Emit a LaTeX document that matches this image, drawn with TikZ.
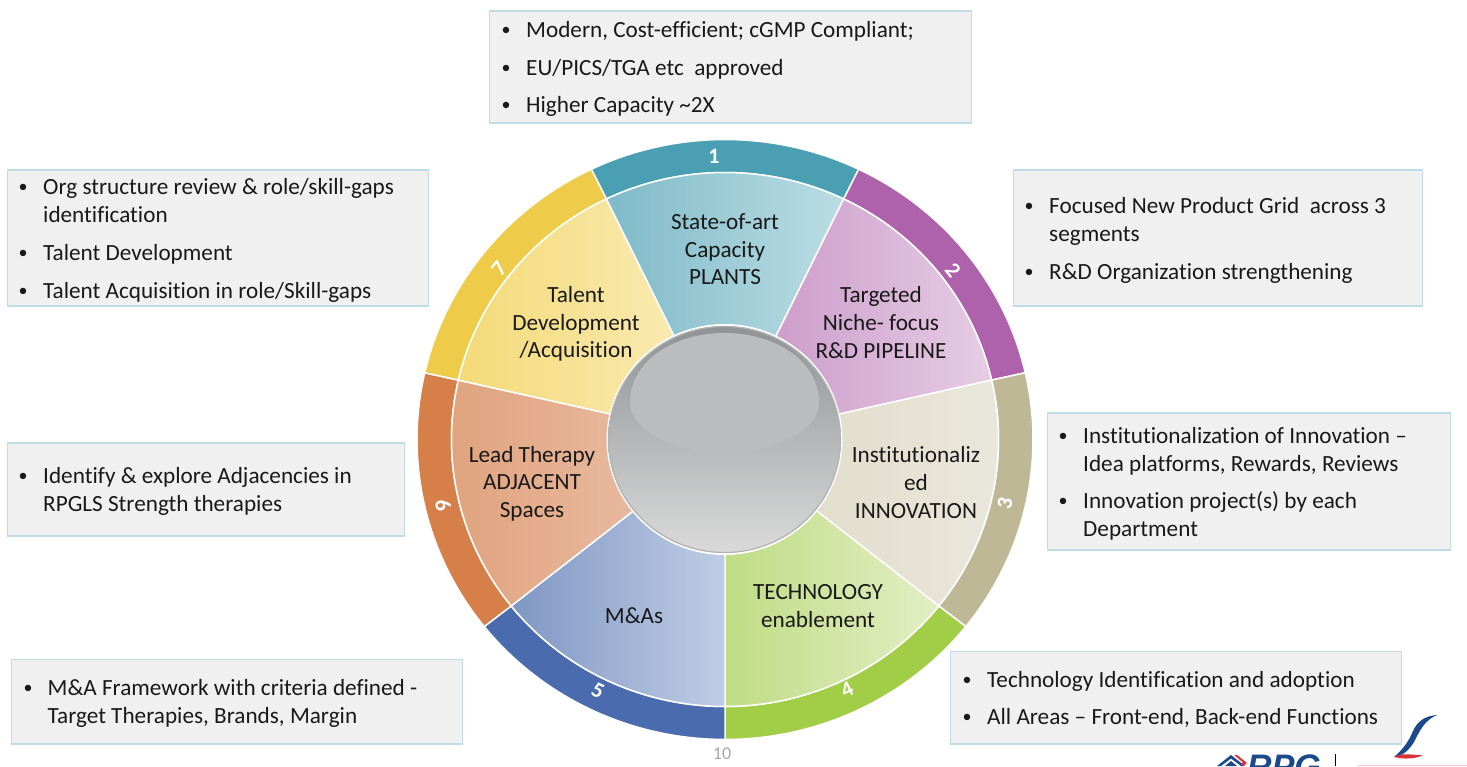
\documentclass[tikz,border=0pt]{standalone}
\usepackage{fontspec}
\setmainfont[Ligatures=CommonOff]{Carlito}
\newfontfamily\logofont{Liberation Sans}
\definecolor{boxfill}{HTML}{F0F0F0}
\definecolor{boxedge}{HTML}{BFDDE6}
\definecolor{ringA}{HTML}{4AA0B2}\definecolor{segAa}{HTML}{7FBAC8}\definecolor{segAb}{HTML}{BBDDE4}
\definecolor{ringB}{HTML}{AE62AC}\definecolor{segBa}{HTML}{C792C5}\definecolor{segBb}{HTML}{E6CDE5}
\definecolor{ringC}{HTML}{BFB897}\definecolor{segCa}{HTML}{DFD8C4}\definecolor{segCb}{HTML}{E9E7DC}
\definecolor{ringD}{HTML}{A2CE47}\definecolor{segDa}{HTML}{BFDC85}\definecolor{segDb}{HTML}{E3EEC4}
\definecolor{ringE}{HTML}{4A6CAE}\definecolor{segEa}{HTML}{7F97C4}\definecolor{segEb}{HTML}{BFCDE4}
\definecolor{ringF}{HTML}{D67F48}\definecolor{segFa}{HTML}{E0A37E}\definecolor{segFb}{HTML}{EDC4AE}
\definecolor{ringG}{HTML}{EFCB4A}\definecolor{segGa}{HTML}{F3DA78}\definecolor{segGb}{HTML}{FBEDBC}
\definecolor{logoblue}{HTML}{1B4A8C}\definecolor{logored}{HTML}{D9303A}
\definecolor{sphT}{HTML}{8F9395}\definecolor{sphM}{HTML}{A4A7A9}\definecolor{sphB}{HTML}{DADADA}
\definecolor{sphH}{HTML}{BBBCBE}\definecolor{sphE}{HTML}{B0B2B3}
\tikzset{
  infobox/.style={draw=boxedge,fill=boxfill,line width=1.4pt},
  itemline/.style={anchor=base west,inner sep=0pt,font=\fontsize{23.2}{26}\selectfont,text=black!90},
  seglabel/.style={align=center,inner sep=0pt,font=\fontsize{23.2}{27.6}\selectfont,text=black!90},
  ringnum/.style={inner sep=0pt,font=\fontsize{22}{24}\selectfont\bfseries,text=white},
}
% #1 mid angle, #2 ring colour, #3 left colour, #4 right colour
\newcommand{\wheelseg}[4]{%
  \pgfmathsetmacro{\aS}{#1-25.714}\pgfmathsetmacro{\aE}{#1+25.714}%
  \path[fill=#2,draw=white,line width=1.5pt]
    plot[domain=\aS:\aE,samples=40] ({725+308*cos(\x)},{439.5+300*sin(\x)})
    -- plot[domain=\aE:\aS,samples=40] ({725+273.5*cos(\x)},{439.5+267*sin(\x)}) -- cycle;
  \shadedraw[left color=#3,right color=#4,draw=white,line width=1.5pt]
    (725,439.5) -- plot[domain=\aS:\aE,samples=40] ({725+273.5*cos(\x)},{439.5+267*sin(\x)}) -- cycle;
}
% #1 name, #2 bullet x, #3 text x, #4 baseline y, #5 text
\newcommand{\itemrow}[5]{\node[itemline,anchor=base] (#1b) at (#2,#4) {\raisebox{1.5pt}{\fontsize{18}{20}\selectfont •}};\node[itemline] (#1) at (#3,#4) {#5};}
\newcommand{\controw}[4]{\node[itemline] (#1) at (#2,#3) {#4};}
\newcommand{\infobox}[5]{\path[infobox] (#2,#3) rectangle (#4,#5) coordinate (#1);}
\begin{document}
\begin{tikzpicture}[x=1pt,y=-1pt]
\useasboundingbox (0,0) rectangle (1467,766);
\begin{scope}
\clip (0,0) rectangle (1467,766);

% wheel
\wheelseg{-90}{ringA}{segAa}{segAb}
\wheelseg{-38.571}{ringB}{segBa}{segBb}
\wheelseg{12.857}{ringC}{segCa}{segCb}
\wheelseg{64.286}{ringD}{segDa}{segDb}
\wheelseg{115.714}{ringE}{segEa}{segEb}
\wheelseg{167.143}{ringF}{segFa}{segFb}
\wheelseg{218.571}{ringG}{segGa}{segGb}

% centre sphere
\fill[white] (724.5,439.5) ellipse [x radius=118,y radius=115.5];
\shade[top color=sphT,middle color=sphM,bottom color=sphB]
  (724.5,439.5) ellipse [x radius=116.5,y radius=113.5];
\draw[sphE,line width=1.2pt] (724.5,439.5) ellipse [x radius=116,y radius=113];
\fill[sphH] (630,403) .. controls (630,360) and (675,333) .. (724.5,333)
  .. controls (774,333) and (819,360) .. (819,403)
  .. controls (819,432) and (770,453) .. (724.5,453)
  .. controls (679,453) and (630,432) .. (630,403) -- cycle;

% ring numbers
\node[ringnum] (n1) at (714,156) {1};
\node[ringnum,rotate=-51] (n2) at (953,270) {2};
\node[ringnum,rotate=77] (n3) at (1005,503) {3};
\node[ringnum,rotate=26] (n4) at (847,690) {4};
\node[ringnum,rotate=-26] (n5) at (598,691) {5};
\node[ringnum,rotate=-77] (n6) at (443,505) {6};
\node[ringnum,rotate=51] (n7) at (499,269) {7};

% segment labels
\node[seglabel] (s1) at (725,249.5) {State-of-art\\Capacity\\PLANTS};
\node[seglabel] (s2) at (881,322.5) {Targeted\\Niche- focus\\R\&D PIPELINE};
\node[seglabel] (s3) at (916,482.5) {Institutionaliz\\ed\\INNOVATION};
\node[seglabel] (s4) at (818,606) {TECHNOLOGY\\enablement};
\node[seglabel] (s5) at (634,615.5) {M\&As};
\node[seglabel] (s6) at (532,483.5) {Lead Therapy\\ADJACENT\\Spaces};
\node[seglabel] (s7) at (576,324) {Talent\\Development\\/Acquisition};

% boxes
\infobox{bA}{489.5}{11}{971.5}{123}
\infobox{bB}{7.5}{170}{428.5}{306}
\infobox{bC}{1013.5}{170}{1422.5}{306}
\infobox{bD}{1047.5}{413}{1450.5}{550}
\infobox{bE}{7.5}{443}{404.5}{536}
\infobox{bF}{11.5}{659.5}{462.5}{744}
\infobox{bG}{950.5}{651.5}{1401.5}{744}

\itemrow{tA1}{506}{526}{37}{Modern, Cost-efficient; cGMP Compliant;}
\itemrow{tA2}{506}{526}{75}{EU/PICS/TGA etc\ \ approved}
\itemrow{tA3}{506}{526}{112}{Higher Capacity \textasciitilde 2X}

\itemrow{tB1}{23}{43}{194}{Org structure review \& role/skill-gaps}
\controw{tB2}{43}{222}{identification}
\itemrow{tB3}{23}{43}{260}{Talent Development}
\itemrow{tB4}{23}{43}{298}{Talent Acquisition in role/Skill-gaps}

\itemrow{tC1}{1029}{1049}{213}{Focused New Product Grid\ \ across 3}
\controw{tC2}{1049}{241}{segments}
\itemrow{tC3}{1029}{1049}{279}{R\&D Organization strengthening}

\itemrow{tD1}{1063}{1083}{443}{Institutionalization of Innovation –}
\controw{tD2}{1083}{471}{Idea platforms, Rewards, Reviews}
\itemrow{tD3}{1063}{1083}{508}{Innovation project(s) by each}
\controw{tD4}{1083}{536}{Department}

\itemrow{tE1}{23}{43}{483}{Identify \& explore Adjacencies in}
\controw{tE2}{43}{511}{RPGLS Strength therapies}

\itemrow{tF1}{28}{47.5}{695}{M\&A Framework with criteria defined -}
\controw{tF2}{47.5}{723}{Target Therapies, Brands, Margin}

\itemrow{tG1}{967}{987}{687}{Technology Identification and adoption}
\itemrow{tG2}{967}{987}{724}{All Areas – Front-end, Back-end Functions}

% page number
\node[inner sep=0pt,font=\fontsize{18}{20}\selectfont,text=black!35] (pg) at (722,754) {10};

% logo
\node[anchor=base west,inner sep=0pt,font=\logofont\fontsize{34}{34}\selectfont\bfseries\itshape,text=logoblue] (rpg) at (1247,778.5) {RPG};
\fill[logoblue] (1231,755) -- (1217,766) -- (1221,766) -- (1231,758.5) -- (1241,766) -- (1245,766) -- cycle;
\fill[logored] (1234,755) -- (1237,755) -- (1247,763) -- (1243,766) -- (1240.5,764) -- (1243,762.5) -- cycle;
\fill[logoblue] (1231,761) -- (1225,766) -- (1237,766) -- cycle;
\draw[black,line width=1pt] (1335,754) -- (1335,766);
\fill[logoblue] (1437,715) .. controls (1424,716) and (1417,722) .. (1413,731)
  .. controls (1408,743) and (1402,750) .. (1394,757)
  .. controls (1403,756) and (1409,750) .. (1414,742)
  .. controls (1420,730) and (1425,720) .. (1437,715) -- cycle;
\fill[logored] (1394,757) .. controls (1403,752) and (1413,755.5) .. (1423,755)
  .. controls (1416,759) and (1404,759.5) .. (1394,757) -- cycle;
\fill[logored!25] (1358,765) rectangle (1467,766);
\end{scope}
\end{tikzpicture}
\end{document}
